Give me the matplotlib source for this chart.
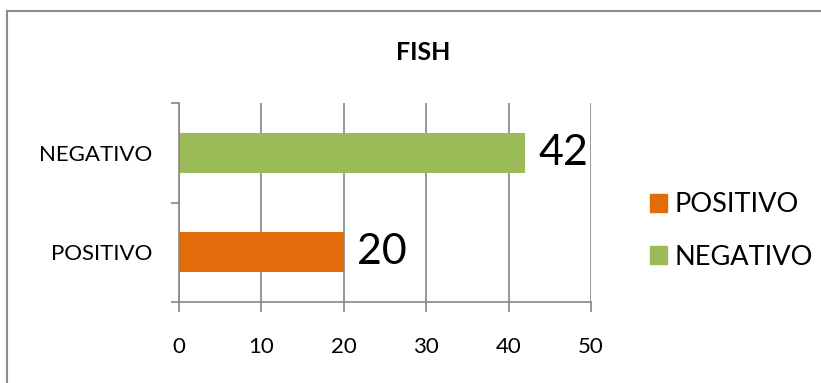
import matplotlib
matplotlib.use("Agg")
import matplotlib.pyplot as plt
from matplotlib.lines import Line2D
from matplotlib.patches import Patch

# Chart data
categories = ["POSITIVO", "NEGATIVO"]
values = [20, 42]
colors = ["#E36C0A", "#9BBB59"]
x_ticks = [0, 10, 20, 30, 40, 50]

plt.rcParams["font.family"] = ["Lato", "DejaVu Sans"]

fig = plt.figure(figsize=(8.21, 3.83), dpi=100)
ax = fig.add_axes([179 / 821, 1 - 302 / 383, 412 / 821, 199 / 383])

ypos = list(range(len(categories)))
ax.barh(ypos, values, height=0.4, color=colors, zorder=3)

for y, v in zip(ypos, values):
    ax.text(v + 1.6, y, str(v), va="center", ha="left", fontsize=31)

ax.set_xlim(0, 50)
ax.set_ylim(-0.5, 1.5)
ax.set_xticks(x_ticks)
ax.set_yticks(ypos)
ax.set_yticklabels(categories)
ax.set_yticks([-0.5, 0.5, 1.5], minor=True)
ax.tick_params(axis="y", which="major", length=0, pad=19, labelsize=16)
ax.tick_params(axis="y", which="minor", length=6, color="#868686", width=1.2)
ax.tick_params(axis="x", length=7, color="#868686", width=1.2, pad=18, labelsize=16)

ax.grid(axis="x", color="#868686", linewidth=1.2, zorder=0)
for side in ["top", "right"]:
    ax.spines[side].set_visible(False)
for side in ["left", "bottom"]:
    ax.spines[side].set_color("#868686")
    ax.spines[side].set_linewidth(1.2)
    ax.spines[side].set_zorder(4)

fig.text(423 / 821, 1 - 52 / 383, "FISH", ha="center", va="center",
         fontsize=18, fontweight="bold")

handles = [Patch(color=c, label=l) for c, l in zip(colors, categories)]
fig.legend(handles=handles, loc="center left", bbox_to_anchor=(626 / 821, 1 - 231 / 383),
           frameon=False, fontsize=19.5, handlelength=0.6, handleheight=0.6,
           handletextpad=0.3, labelspacing=1.0)

# outer chart frame
fig.add_artist(Line2D([7 / 821, 7 / 821], [0, 1 - 11 / 383], color="#8c8c8c", lw=1.5))
fig.add_artist(Line2D([7 / 821, 1], [1 - 11 / 383, 1 - 11 / 383], color="#8c8c8c", lw=1.5))

fig.savefig("out.png", dpi=100)
